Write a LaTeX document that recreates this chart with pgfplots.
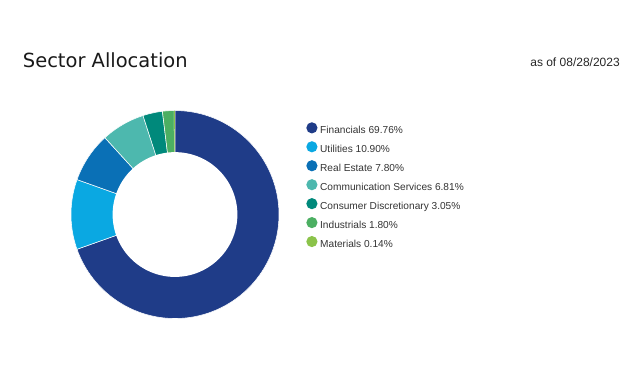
\documentclass[border=0pt]{standalone}
\usepackage{pgfplots}
\pgfplotsset{compat=1.18}
\usepackage{fontspec}
\setmainfont{Liberation Sans}
\newfontfamily\titlefont{DejaVu Sans}
\definecolor{cFin}{HTML}{1F3C88}
\definecolor{cUti}{HTML}{0AA8E2}
\definecolor{cRE}{HTML}{0A70B6}
\definecolor{cCom}{HTML}{4DB8AE}
\definecolor{cCD}{HTML}{00897B}
\definecolor{cInd}{HTML}{4CAF62}
\definecolor{cMat}{HTML}{8BC34A}
\definecolor{txt}{HTML}{333333}
% angle(p) = 90 - 360*p/100.26 (p = cumulative percentage)
\newcommand{\ang}[1]{90-3.59067*#1}
\begin{document}
\begin{tikzpicture}
\useasboundingbox (0,0) rectangle (480pt,276pt);
\node[anchor=base west, inner sep=0pt, font=\titlefont\fontsize{14.6}{18}\selectfont, text=black!90] at (17pt,225pt) {Sector Allocation};
\node[anchor=base east, inner sep=0pt, font=\fontsize{9}{11}\selectfont, text=black!85] at (465pt,226pt) {as of 08/28/2023};
\begin{axis}[
  at={(131.25pt,115.1pt)}, anchor=center,
  width=156pt, height=156pt, scale only axis,
  xmin=-1, xmax=1, ymin=-1, ymax=1,
  hide axis, clip=false,
  legend style={draw=none, fill=none, inner sep=0pt, font=\fontsize{7.6}{9}\selectfont, text=txt,
    at={(1.13,0.945)}, anchor=north west, row sep=1.95pt, cells={anchor=west}},
  legend image code/.code={\fill[#1, draw=none] (0.05cm,0.09cm) circle (4.2pt);},
]
\addplot[fill=cFin, draw=white, line width=0.4pt, domain={\ang{69.76}}:{\ang{0}}, samples=120] ({cos(x)},{sin(x)}) -- (axis cs:0,0) -- cycle;
\addplot[fill=cUti, draw=white, line width=0.4pt, domain={\ang{80.66}}:{\ang{69.76}}, samples=30] ({cos(x)},{sin(x)}) -- (axis cs:0,0) -- cycle;
\addplot[fill=cRE, draw=white, line width=0.4pt, domain={\ang{88.46}}:{\ang{80.66}}, samples=30] ({cos(x)},{sin(x)}) -- (axis cs:0,0) -- cycle;
\addplot[fill=cCom, draw=white, line width=0.4pt, domain={\ang{95.27}}:{\ang{88.46}}, samples=30] ({cos(x)},{sin(x)}) -- (axis cs:0,0) -- cycle;
\addplot[fill=cCD, draw=white, line width=0.4pt, domain={\ang{98.32}}:{\ang{95.27}}, samples=20] ({cos(x)},{sin(x)}) -- (axis cs:0,0) -- cycle;
\addplot[fill=cInd, draw=white, line width=0.4pt, domain={\ang{100.12}}:{\ang{98.32}}, samples=10] ({cos(x)},{sin(x)}) -- (axis cs:0,0) -- cycle;
\addplot[fill=cMat, draw=none, domain={\ang{100.26}}:{\ang{100.12}}, samples=5] ({cos(x)},{sin(x)}) -- (axis cs:0,0) -- cycle;
\addplot[fill=white, draw=none, domain=0:360, samples=120, forget plot] ({0.6*cos(x)},{0.6*sin(x)});
\legend{Financials 69.76\%, Utilities 10.90\%, Real Estate 7.80\%, Communication Services 6.81\%, Consumer Discretionary 3.05\%, Industrials 1.80\%, Materials 0.14\%}
\end{axis}
\end{tikzpicture}
\end{document}
